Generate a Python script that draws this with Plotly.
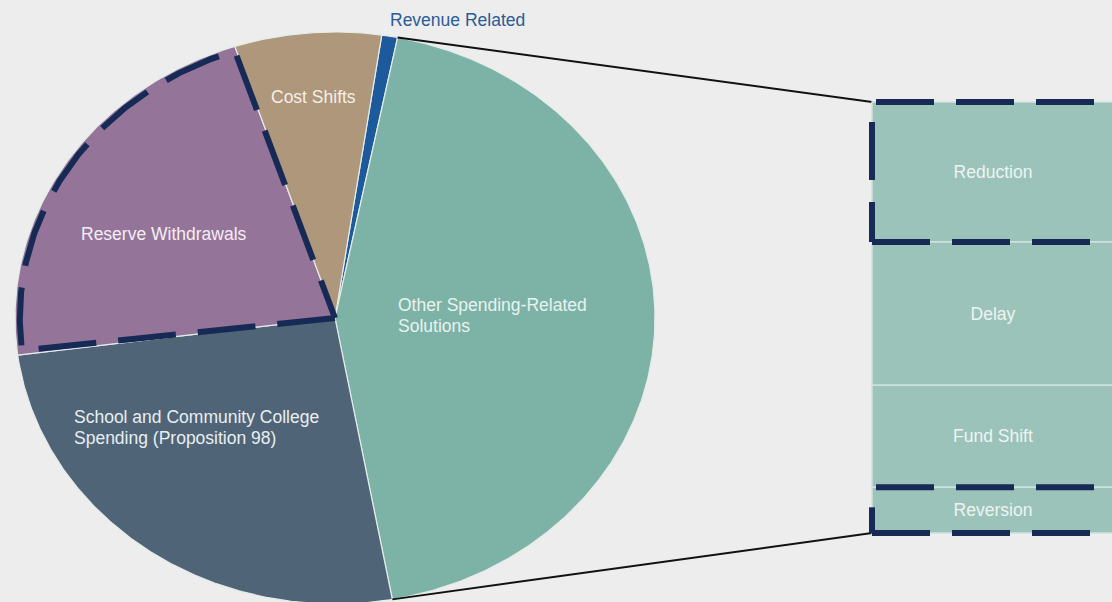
import numpy as np
import plotly.graph_objects as go

# ---------------- data ----------------
pie_labels = ["Revenue Related", "Other Spending-Related Solutions",
              "School and Community College Spending (Proposition 98)",
              "Reserve Withdrawals", "Cost Shifts"]
pie_values = [0.8, 44.0, 25.8, 22.0, 7.4]
pie_colors = ["#1d5a9b", "#7db2a7", "#4f6577", "#957499", "#ae977b"]

bar_labels = ["Reduction", "Delay", "Fund Shift", "Reversion"]
bar_values = [32.5, 33.2, 23.7, 10.6]
bar_dashed = [True, False, False, True]

# ---------------- geometry (layout) ----------------
W, H = 1112, 602
CX, CY, RX, RY = 335, 318, 320, 286
START = 8.4          # degrees clockwise from top
BAR_X0, BAR_W = 872, 242
BAR_TOP, BAR_BOT = 102, 533
DASH = "58px,22px"
NAVY = "#172a56"
BG = "#ededed"


def ell(t_deg, s=1.0):
    t = np.radians(t_deg)
    return CX + s * RX * np.sin(t), CY - s * RY * np.cos(t)


fig = go.Figure()

total = sum(pie_values)
angles = [START]
for v in pie_values:
    angles.append(angles[-1] + v / total * 360)

for i, (lab, v, c) in enumerate(zip(pie_labels, pie_values, pie_colors)):
    a0, a1 = angles[i], angles[i + 1]
    ts = np.linspace(a0, a1, max(4, int((a1 - a0) * 2)))
    xs, ys = ell(ts)
    xs = np.concatenate([[CX], xs, [CX]])
    ys = np.concatenate([[CY], ys, [CY]])
    fig.add_trace(go.Scatter(x=xs, y=ys, fill="toself", fillcolor=c,
                             mode="lines", line=dict(color="#e4ecea", width=1.2),
                             hoverinfo="skip", showlegend=False, name=lab))

# dashed outline for Reserve Withdrawals
ri = pie_labels.index("Reserve Withdrawals")
a0, a1 = angles[ri], angles[ri + 1]
ts = np.linspace(a0 + 0.8, a1 - 0.3, 200)
xs, ys = ell(ts, 0.985)
ox = np.concatenate([[CX], xs, [CX]])
oy = np.concatenate([[CY], ys, [CY]])
fig.add_trace(go.Scatter(x=ox, y=oy, mode="lines",
                         line=dict(color=NAVY, width=6, dash=DASH),
                         hoverinfo="skip", showlegend=False))

# connector lines from the "Other Spending" slice to the bar
oi = pie_labels.index("Other Spending-Related Solutions")
p_top = ell(angles[oi])
p_bot = ell(angles[oi + 1])
fig.add_trace(go.Scatter(x=[p_top[0], BAR_X0], y=[p_top[1], BAR_TOP], mode="lines",
                         line=dict(color="#111111", width=2),
                         hoverinfo="skip", showlegend=False))
fig.add_trace(go.Scatter(x=[p_bot[0], BAR_X0], y=[p_bot[1], BAR_BOT], mode="lines",
                         line=dict(color="#111111", width=2),
                         hoverinfo="skip", showlegend=False))

# stacked bar on secondary y axis
btot = sum(bar_values)
k = btot / (BAR_BOT - BAR_TOP)
y2_range = [(H - BAR_TOP) * k, -BAR_TOP * k]
bases = list(np.cumsum([0] + bar_values[:-1]))
fig.add_trace(go.Bar(x=[BAR_X0 + BAR_W / 2] * len(bar_values), y=bar_values, base=bases,
                     width=BAR_W, yaxis="y2",
                     marker=dict(color="#9bc3ba", line=dict(color="#cfe1dd", width=1.5)),
                     text=bar_labels, textposition="inside", insidetextanchor="middle",
                     textangle=0, constraintext="none",
                     textfont=dict(color="#eef4f2", size=17.5, family="Liberation Sans"),
                     hoverinfo="skip", showlegend=False))

# dashed outlines on bar segments
for lab, v, b, d in zip(bar_labels, bar_values, bases, bar_dashed):
    if not d:
        continue
    y_top, y_bot = b, b + v
    xr = BAR_X0 + BAR_W + 40
    segs = [([BAR_X0 + 4, xr], [y_top, y_top]),
            ([BAR_X0, BAR_X0], [y_top + 20 * k, y_bot]),
            ([BAR_X0, xr], [y_bot, y_bot])]
    for sx, sy in segs:
        fig.add_trace(go.Scatter(x=sx, y=sy, yaxis="y2", mode="lines",
                                 line=dict(color=NAVY, width=6, dash=DASH),
                                 hoverinfo="skip", showlegend=False))

# labels
FONT = "Liberation Sans"
ann = [
    dict(text="Revenue Related", x=457, y=20, color="#2b5c96", xanchor="center"),
    dict(text="Cost Shifts", x=313, y=97, color="#f4efe8", xanchor="center"),
    dict(text="Reserve Withdrawals", x=164, y=234, color="#f4eef4", xanchor="center"),
    dict(text="Other Spending-Related", x=396, y=305, color="#e8f2ef", xanchor="left"),
    dict(text="Solutions", x=396, y=326, color="#e8f2ef", xanchor="left"),
    dict(text="School and Community College", x=72, y=417, color="#e9eef2", xanchor="left"),
    dict(text="Spending (Proposition 98)", x=72, y=438, color="#e9eef2", xanchor="left"),
]
for a in ann:
    fig.add_annotation(text=a["text"], x=a["x"], y=a["y"], xref="x", yref="y",
                       showarrow=False, xanchor=a["xanchor"], yanchor="middle",
                       font=dict(family=FONT, size=17.5, color=a["color"]))

fig.update_layout(
    width=W, height=H, margin=dict(l=0, r=0, t=0, b=0),
    paper_bgcolor=BG, plot_bgcolor=BG, barmode="overlay",
    xaxis=dict(range=[0, W], visible=False, fixedrange=True),
    yaxis=dict(range=[H, 0], visible=False, fixedrange=True),
    yaxis2=dict(range=y2_range, overlaying="y", visible=False, fixedrange=True),
    uniformtext=dict(minsize=15, mode="show"),
)

fig.write_html("out.html", config={"displayModeBar": False},
               post_script="document.body.style.margin='0';document.body.style.overflow='hidden';"
                           "document.body.style.background='" + BG + "';")
